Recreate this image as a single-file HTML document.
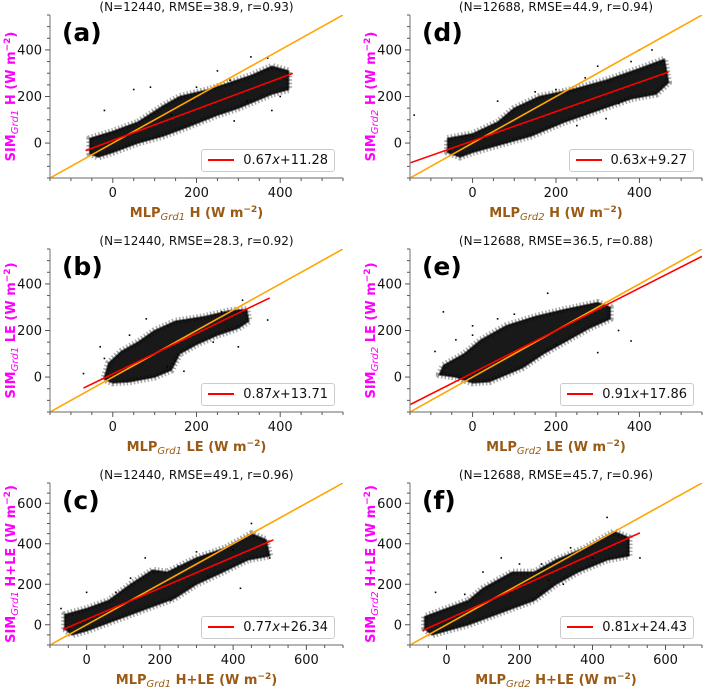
<!DOCTYPE html>
<html><head><meta charset="utf-8"><style>
html,body{margin:0;padding:0;background:#fff;}
body{width:704px;height:687px;position:relative;overflow:hidden;font-family:"DejaVu Sans","Liberation Sans",sans-serif;}
svg{position:absolute;left:0;top:0;}
.leg{position:absolute;border:1px solid #ccc;border-radius:3px;background:#fff;font-size:13px;height:21px;line-height:21px;padding:0 6px 0 6px;white-space:nowrap;color:#111;}
.leg span.sw{display:inline-block;width:26px;height:2px;background:#f00;vertical-align:middle;margin-right:9px;margin-top:-2px;}
</style></head><body>
<svg id="chart" width="704" height="687" viewBox="0 0 704 687"></svg>
<div id="legs"></div>
<script>
// ---- data ----
const panelIds = ["a","b","c","d","e","f"];
const titles = ["(N=12440, RMSE=38.9, r=0.93)","(N=12440, RMSE=28.3, r=0.92)","(N=12440, RMSE=49.1, r=0.96)","(N=12688, RMSE=44.9, r=0.94)","(N=12688, RMSE=36.5, r=0.88)","(N=12688, RMSE=45.7, r=0.96)"];
const varNames = ["H","LE","H+LE","H","LE","H+LE"];
const grids = ["Grd1","Grd1","Grd1","Grd2","Grd2","Grd2"];
const slopes = [0.67,0.87,0.77,0.63,0.91,0.81];
const intercepts = [11.28,13.71,26.34,9.27,17.86,24.43];
const fitRanges = [[-65,430],[-70,375],[-65,510],[-150,470],[-150,550],[-65,530]];
const axisRanges = [[-150,550],[-150,550],[-100,700],[-150,550],[-150,550],[-100,700]];
const tickLabels = [[0,200,400],[0,200,400],[0,200,400,600],[0,200,400],[0,200,400],[0,200,400,600]];
const cores = [
 [[-55,-30],[-55,20],[0,50],[60,90],[120,160],[160,200],[230,230],[330,290],[380,330],[420,310],[420,230],[380,210],[300,150],[250,120],[180,70],[120,30],[60,0],[0,-40],[-35,-60],[-55,-45]],
 [[-20,0],[-10,60],[20,110],[60,150],[100,200],[150,240],[220,260],[280,285],[320,290],[325,240],[300,210],[250,180],[200,140],[160,100],[140,30],[100,0],[40,-20],[0,-25],[-20,-10]],
 [[-60,-20],[-60,50],[0,80],[60,120],[120,200],[180,270],[220,260],[300,330],[380,380],[450,450],[490,420],[500,340],[440,320],[360,250],[300,200],[240,130],[180,90],[120,50],[60,10],[0,-30],[-40,-50]],
 [[-60,-40],[-60,20],[0,40],[60,90],[100,150],[160,200],[240,230],[320,270],[400,320],[460,360],[470,260],[440,210],[380,190],[300,140],[220,90],[140,30],[60,-10],[0,-40],[-30,-60]],
 [[-80,10],[-70,50],[-20,100],[20,160],[80,220],[150,260],[220,290],[300,320],[330,300],[330,250],[280,210],[230,160],[170,100],[120,40],[80,10],[40,-20],[0,-25],[-40,0]],
 [[-60,-20],[-60,40],[0,80],[60,120],[100,180],[180,260],[240,260],[300,320],[380,380],[460,460],[500,430],[500,340],[440,320],[360,260],[300,200],[240,120],[180,80],[120,40],[60,0],[0,-30],[-40,-50]]
];
const outliers = [
 [[250,310],[330,370],[370,365],[290,95],[380,140],[190,180],[-20,140],[50,230],[90,240],[280,270],[200,240],[400,200],[320,180],[140,120]],
 [[-70,15],[-30,130],[-20,80],[300,130],[370,245],[310,330],[80,250],[130,45],[170,25],[200,200],[260,280],[40,180],[240,150]],
 [[-70,80],[0,160],[160,330],[250,290],[400,370],[450,500],[420,180],[500,330],[230,120],[300,360],[330,240],[120,230],[80,160]],
 [[-140,120],[-150,25],[300,330],[400,400],[430,400],[320,105],[60,180],[250,75],[350,170],[200,230],[270,280],[380,350],[150,220]],
 [[-70,280],[-90,110],[0,220],[180,360],[350,200],[380,155],[300,105],[200,140],[-40,160],[60,250],[100,270],[250,250],[0,180]],
 [[-30,160],[200,300],[260,300],[440,530],[530,330],[320,200],[150,330],[400,330],[100,260],[340,380],[280,220],[50,150]]
];
// ---- layout ----
const colX = [[50,343],[410,702]];
const rowY = [[15,178],[249,412],[483,645]];
const NS = "http://www.w3.org/2000/svg";
const svg = document.getElementById('chart');
function mk(tag, attrs, parent){const e=document.createElementNS(NS,tag);for(const k in attrs)e.setAttribute(k,attrs[k]);(parent||svg).appendChild(e);return e;}
const legs = document.getElementById('legs');
panelIds.forEach((pid,i)=>{
  const col = i<3?0:1, row=i%3;
  const [x0,x1]=colX[col],[y0,y1]=rowY[row];
  const [lo,hi]=axisRanges[i];
  const sx=v=>x0+(v-lo)/(hi-lo)*(x1-x0);
  const sy=v=>y1-(v-lo)/(hi-lo)*(y1-y0);
  const g=mk('g',{});
  
  
  const cid='clip'+pid;
  const cp=mk('clipPath',{id:cid},g);mk('rect',{x:x0,y:y0,width:x1-x0,height:y1-y0},cp);
  const pg=mk('g',{'clip-path':'url(#'+cid+')'},g);
  const fr=mk('polygon',{points:cores[i].map(p=>sx(p[0])+','+sy(p[1])).join(' '),fill:'none',stroke:'#000','stroke-opacity':'0.35','stroke-width':7,'stroke-linejoin':'round','stroke-dasharray':'1.5 2'},pg);
  
  
  const co=mk('polygon',{points:cores[i].map(p=>sx(p[0])+','+sy(p[1])).join(' '),fill:'#000','fill-opacity':'0.9',stroke:'#000','stroke-opacity':'0.5','stroke-width':2,'stroke-linejoin':'round'},pg);
  
  
  outliers[i].forEach(p=>{const c=mk('rect',{x:sx(p[0])-0.8,y:sy(p[1])-0.8,width:1.6,height:1.6,fill:'#000'},pg);
    
    });
  const one=mk('line',{x1:sx(lo),y1:sy(lo),x2:sx(hi),y2:sy(hi),stroke:'#ffa500','stroke-width':1.6},pg);
  
  
  const [fa,fb]=fitRanges[i];
  const fit=mk('line',{x1:sx(fa),y1:sy(slopes[i]*fa+intercepts[i]),x2:sx(fb),y2:sy(slopes[i]*fb+intercepts[i]),stroke:'#ff0000','stroke-width':1.6},pg);
  
  
  mk('line',{x1:x0,y1:y0,x2:x0,y2:y1,stroke:'#888','stroke-width':1.2},g);
  mk('line',{x1:x0,y1:y1,x2:x1,y2:y1,stroke:'#888','stroke-width':1.2},g);
  for(let v=Math.ceil(lo/50)*50; v<=hi; v+=50){
    const major=tickLabels[i].includes(v);
    const L=major?5:3;
    mk('line',{x1:sx(v),y1:y1,x2:sx(v),y2:y1+L,stroke:'#555','stroke-width':1},g);
    mk('line',{x1:x0-L,y1:sy(v),x2:x0,y2:sy(v),stroke:'#555','stroke-width':1},g);
  }
  tickLabels[i].forEach(v=>{
    const tx=mk('text',{x:sx(v),y:y1+19,'text-anchor':'middle','font-size':13,fill:'#111'},g);tx.textContent=v;
    
    
    const ty=mk('text',{x:x0-8,y:sy(v)+4.5,'text-anchor':'end','font-size':13,fill:'#111'},g);ty.textContent=v;
    
    
  });
  const t=mk('text',{x:(x0+x1)/2,y:y0-4,'text-anchor':'middle','font-size':12,fill:'#111'},g);t.textContent=titles[i];
  
  
  const pl=mk('text',{x:x0+12,y:y0+26,'font-size':25,'font-weight':'bold',fill:'#000'},g);pl.textContent='('+pid+')';
  
  
  const xl=mk('text',{x:(x0+x1)/2,y:y1+39,'text-anchor':'middle','font-size':13,'font-weight':'bold',fill:'#9a5a14'},g);
  
  
  xl.innerHTML='MLP<tspan font-size="10" font-style="italic" font-weight="normal" dy="3">'+grids[i]+'</tspan><tspan dy="-3"> '+varNames[i]+' (W m</tspan><tspan font-size="9" dy="-5">−2</tspan><tspan dy="5">)</tspan>';
  const yc=(y0+y1)/2, xx=x0-35;
  const yl=mk('text',{x:xx,y:yc,'text-anchor':'middle','font-size':13,'font-weight':'bold',fill:'#ff00ff',transform:'rotate(-90 '+xx+' '+yc+')'},g);
  
  
  yl.innerHTML='SIM<tspan font-size="10" font-style="italic" font-weight="normal" dy="3">'+grids[i]+'</tspan><tspan dy="-3"> '+varNames[i]+' (W m</tspan><tspan font-size="9" dy="-5">−2</tspan><tspan dy="5">)</tspan>';
  const d=document.createElement('div');d.className='leg';
  
  
  d.style.right=(704-x1+8)+'px';d.style.top=(y1-29)+'px';
  d.innerHTML='<span class="sw"></span>'+slopes[i].toFixed(2)+'<i>x</i>+'+intercepts[i].toFixed(2);
  legs.appendChild(d);
});
</script>
</body></html>
